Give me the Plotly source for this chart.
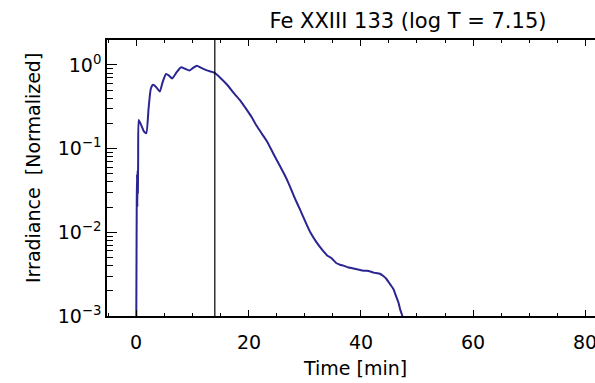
import plotly.graph_objects as go

# Data
time_min = [0.0, 0.05, 0.1, 0.15, 0.2, 0.25, 0.3, 0.35, 0.45, 0.9, 1.4, 1.8,
            2.2, 2.6, 3.0, 3.5, 4.2, 4.7, 5.3, 5.8, 6.4, 7.2, 8.0, 8.7, 9.5,
            10.2, 10.8, 11.5, 12.6, 13.9, 15.0, 16.2, 17.5, 18.6, 19.7, 20.6,
            21.5, 22.4, 23.3, 24.5, 25.6, 26.4, 27.1, 28.2, 29.2, 30.1, 31.0,
            32.0, 33.1, 34.0, 34.8, 35.6, 36.3, 36.9, 37.8, 38.3, 38.7, 39.5,
            40.2, 41.1, 41.7, 42.3, 43.4, 44.0, 44.6, 45.2, 45.8, 46.3, 46.7,
            47.0, 47.3, 47.6]
irradiance = [0.0005, 0.004, 0.025, 0.05, 0.02, 0.055, 0.03, 0.08, 0.22, 0.19,
              0.16, 0.153, 0.30, 0.52, 0.58, 0.55, 0.48, 0.62, 0.78, 0.75, 0.69,
              0.82, 0.94, 0.90, 0.86, 0.93, 0.98, 0.93, 0.86, 0.81, 0.70, 0.58,
              0.45, 0.37, 0.29, 0.235, 0.185, 0.15, 0.122, 0.085, 0.062, 0.049,
              0.039, 0.026, 0.0185, 0.0135, 0.0100, 0.0078, 0.0062, 0.0053,
              0.0049, 0.0043, 0.0041, 0.0040, 0.0038, 0.00375, 0.0037, 0.0036,
              0.0035, 0.00347, 0.0034, 0.0033, 0.0032, 0.0030, 0.00275, 0.0024,
              0.0021, 0.0017, 0.00145, 0.0012, 0.00105, 0.0009]
marker_time = 14.0

x_ticks = [0, 20, 40, 60, 80]
x_ticktext = ["0", "20", "40", "60", "80"]
y_ticks = [1e-3, 1e-2, 1e-1, 1e0]
y_ticktext = ["10<sup>−3</sup>", "10<sup>−2</sup>", "10<sup>−1</sup>", "10<sup>0</sup>"]
y_minor = [m * 10.0 ** e for e in (-3, -2, -1, 0) for m in range(2, 10)]

title_text = "Fe XXIII 133 (log T = 7.15)"
x_title = "Time [min]"
y_title = "Irradiance  [Normalized]"

FONT = "DejaVu Sans"
W, H = 595, 383
ML, MR, MT, MB = 107, 0, 40, 67
PW, PH = W - ML - MR, H - MT - MB

fig = go.Figure()
fig.add_trace(go.Scatter(
    x=time_min, y=irradiance, mode="lines",
    line=dict(color="#2b2592", width=2, shape="spline", smoothing=0.5),
    showlegend=False, hoverinfo="skip"))

fig.add_shape(type="line", xref="x", yref="paper", x0=marker_time, x1=marker_time,
              y0=0, y1=1, line=dict(color="black", width=1.2))

# x tick labels (as annotations so the clipped "80" at the edge stays visible)
for v, t in zip(x_ticks, x_ticktext):
    fig.add_annotation(x=v, xref="x", y=-(342 - (H - MB)) / PH, yref="paper",
                       text=t, showarrow=False, xanchor="center", yanchor="middle",
                       font=dict(family=FONT, size=19, color="black"))

fig.add_annotation(x=0.5 * (603 - ML) / PW, xref="paper", y=-(368 - (H - MB)) / PH,
                   yref="paper", text=x_title, showarrow=False,
                   xanchor="center", yanchor="middle",
                   font=dict(family=FONT, size=19, color="black"))
fig.add_annotation(x=(33 - ML) / PW, xref="paper", y=((H - MB) - 168) / PH,
                   yref="paper", text=y_title, showarrow=False, textangle=-90,
                   xanchor="center", yanchor="middle",
                   font=dict(family=FONT, size=19, color="black"))

fig.update_layout(
    width=W, height=H,
    margin=dict(l=ML, r=MR, t=MT, b=MB),
    paper_bgcolor="white", plot_bgcolor="white",
    font=dict(family=FONT, size=19, color="black"),
    title=dict(text=title_text, xref="container", yref="container",
               x=408 / W, xanchor="center", y=1 - 21 / H, yanchor="middle",
               font=dict(family=FONT, size=21, color="black")),
)

fig.update_xaxes(
    range=[-5.2, 81.7], showgrid=False, zeroline=False,
    showline=True, linecolor="black", linewidth=1.5, mirror="ticks",
    tickmode="array", tickvals=x_ticks, showticklabels=False,
    ticks="inside", ticklen=6, tickcolor="black", tickwidth=1.2,
    minor=dict(dtick=5, tick0=0, ticks="inside", ticklen=3, tickcolor="black", tickwidth=1),
)

fig.update_yaxes(
    type="log", range=[-3, 0.298], showgrid=False, zeroline=False,
    showline=True, linecolor="black", linewidth=1.5, mirror=False,
    tickmode="array", tickvals=y_ticks, ticktext=y_ticktext,
    ticks="inside", ticklen=10, tickcolor="black", tickwidth=1.2,
    minor=dict(tickmode="array", tickvals=y_minor, ticks="inside", ticklen=6,
               tickcolor="black", tickwidth=1),
    tickfont=dict(family=FONT, size=19),
)

fig.write_html("out.html")
